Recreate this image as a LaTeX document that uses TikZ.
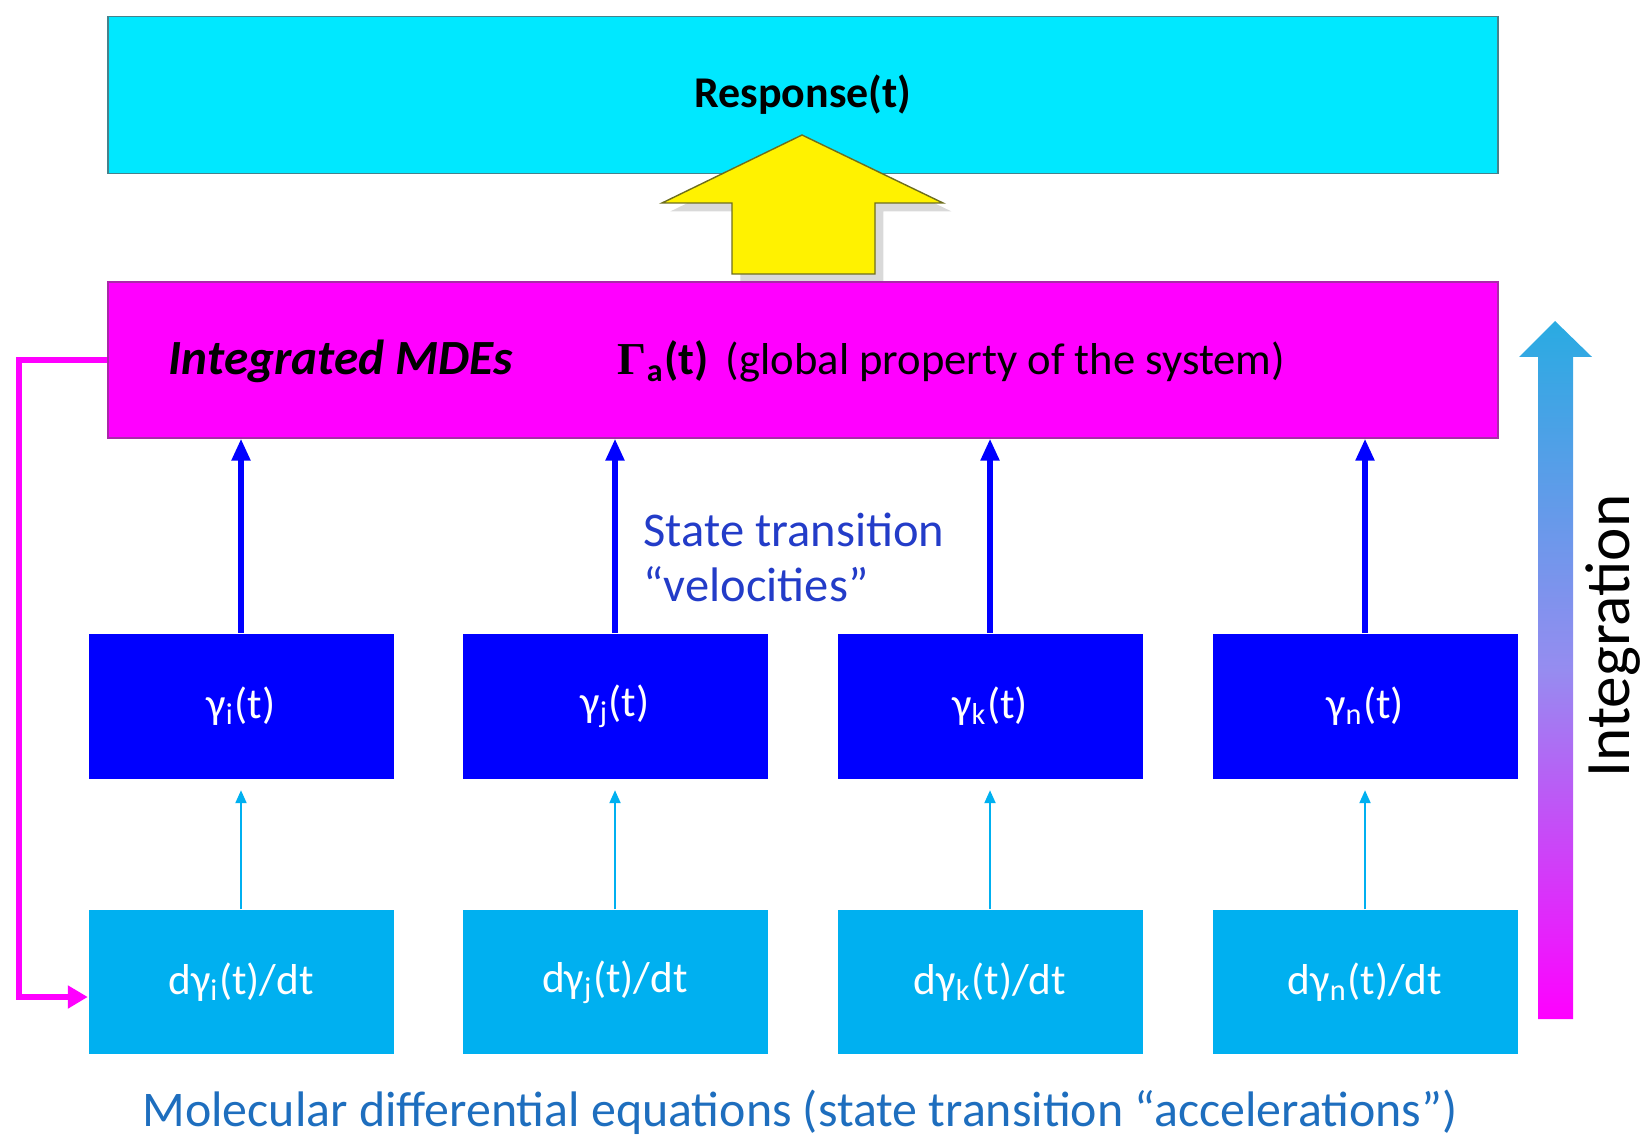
\documentclass[tikz,border=0pt]{standalone}
\usepackage{fontspec}
\setmainfont{Carlito}
\newfontfamily\serifgreek{Liberation Serif}
\usetikzlibrary{arrows.meta,shadows}
\definecolor{respcyan}{RGB}{0,232,255}
\definecolor{cyanedge}{RGB}{70,130,140}
\definecolor{mdemagenta}{RGB}{255,0,255}
\definecolor{mdeedge}{RGB}{170,40,170}
\definecolor{gammablue}{RGB}{0,0,255}
\definecolor{derivblue}{RGB}{0,176,240}
\definecolor{statetext}{RGB}{35,60,200}
\definecolor{mdetext}{RGB}{30,110,190}
\definecolor{integtop}{RGB}{41,171,226}
\definecolor{arrowedge}{RGB}{110,110,30}
\begin{document}
\begin{tikzpicture}[x=0.1mm,y=-0.1mm,>=stealth,
  box/.style={minimum width=30.5mm,minimum height=14.5mm,inner sep=0pt,text=white,font=\fontsize{12.3}{15}\selectfont},
  rate/.style={box,fill=gammablue},
  deriv/.style={box,fill=derivblue,minimum height=14.4mm},
  velo/.style={-{Triangle[length=2.2mm,width=1.8mm]},line width=1.5pt,draw=gammablue},
  accel/.style={-{Triangle[length=1.3mm,width=1.1mm]},line width=0.6pt,draw=derivblue,shorten >=1.1mm}]
\useasboundingbox (0,0) rectangle (1648,1137);

% top and middle bars
\node[draw=cyanedge,fill=respcyan,minimum width=139mm,minimum height=15.7mm,inner sep=0pt,
  font=\fontsize{12.5}{14}\selectfont\bfseries] (resp) at (803,95) {Response(t)};
\draw[draw=arrowedge,fill=yellow,drop shadow={opacity=.3}]
  (732,274) -- (732,203) -- (662,203) -- (802,135) -- (943,203) -- (875,203) -- (875,274) -- cycle;
\node[draw=mdeedge,fill=mdemagenta,minimum width=139mm,minimum height=15.6mm,inner sep=0pt] (mde) at (803,360) {};
\node[anchor=base west,inner sep=0pt,font=\fontsize{14}{16}\selectfont\bfseries\itshape] (mdes) at (168,375) {Integrated MDEs};
\node[anchor=base west,inner sep=0pt,font=\fontsize{13}{15}\selectfont\bfseries] (gam) at (617,375) {{\serifgreek Γ}\textsubscript{a}(t)};
\node[anchor=base west,inner sep=0pt,font=\fontsize{12.7}{15}\selectfont] (glob) at (725,375) {(global property of the system)};

% state boxes
\node[rate] (g1) at (241,706) {γ\textsubscript{i}(t)};
\node[rate] (g2) at (615,706) {γ\textsubscript{j}(t)};
\node[rate] (g3) at (990,706) {γ\textsubscript{k}(t)};
\node[rate] (g4) at (1365,706) {γ\textsubscript{n}(t)};
\node[deriv] (d1) at (241,982) {dγ\textsubscript{i}(t)/dt};
\node[deriv] (d2) at (615,982) {dγ\textsubscript{j}(t)/dt};
\node[deriv] (d3) at (990,982) {dγ\textsubscript{k}(t)/dt};
\node[deriv] (d4) at (1365,982) {dγ\textsubscript{n}(t)/dt};

\draw[velo] (g1.north) -- (g1.north |- mde.south);
\draw[velo] (g2.north) -- (g2.north |- mde.south);
\draw[velo] (g3.north) -- (g3.north |- mde.south);
\draw[velo] (g4.north) -- (g4.north |- mde.south);
\draw[accel] (d1.north) -- (g1.south);
\draw[accel] (d2.north) -- (g2.south);
\draw[accel] (d3.north) -- (g3.south);
\draw[accel] (d4.north) -- (g4.south);

% feedback loop
\draw[-{Triangle[length=2mm,width=2.2mm]},line width=1.6pt,draw=mdemagenta]
  (mde.west) -- ++(-88,0) |- ([yshift=-1.5mm]d1.west);

\node[anchor=north west,inner sep=0pt,align=left,text=statetext,font=\fontsize{13.8}{15.6}\selectfont] (vel) at (643,512) {State transition\\“velocities”};
\node[text=mdetext,font=\fontsize{14.2}{16}\selectfont] (mdelabel) at (800,1112) {Molecular differential equations (state transition “accelerations”)};

% integration arrow
\shade[top color=integtop,bottom color=mdemagenta,middle color={rgb,255:red,150;green,140;blue,240}]
  (1538,1019) -- (1538,357) -- (1519,357) -- (1555,321) -- (1592,357) -- (1573,357) -- (1573,1019) -- cycle;
\node[rotate=90,font=\fontsize{18}{20}\selectfont] (integ) at (1613,636) {Integration};
\end{tikzpicture}
\end{document}
